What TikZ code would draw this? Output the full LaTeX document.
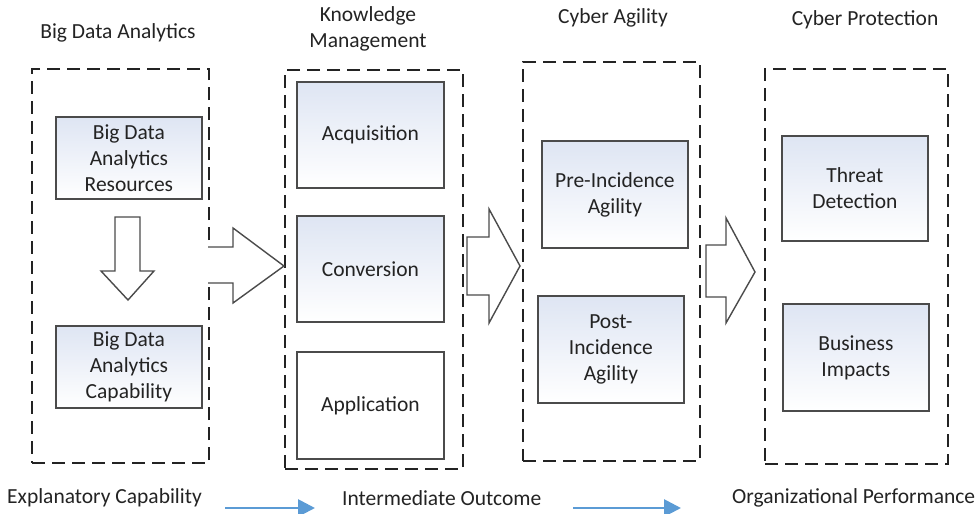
\documentclass[tikz,border=0pt]{standalone}
\usepackage{fontspec}
\setmainfont{Carlito}
\usetikzlibrary{arrows.meta}
\definecolor{txt}{RGB}{35,35,35}
\definecolor{edge}{RGB}{75,75,75}
\definecolor{gradtop}{RGB}{222,229,243}
\definecolor{bluearr}{RGB}{91,155,213}
\tikzset{
  lbl/.style={text=txt, font=\fontsize{21.5}{26}\selectfont, align=center, inner sep=0pt},
  grp/.style={draw=txt, line width=2pt, dash pattern=on 13pt off 7pt, anchor=north west, inner sep=0pt},
  item/.style={draw=edge, line width=1.8pt, top color=gradtop, bottom color=white, anchor=north west,
    inner sep=0pt, text=txt, font=\fontsize{21.5}{26}\selectfont, align=center},
  plain/.style={item, top color=white, bottom color=white},
  blk/.style={draw=edge, line width=1.4pt, fill=white, line join=miter},
  flow/.style={draw=bluearr, line width=2.8pt, -{Triangle[length=17pt,width=17pt]}}
}
\begin{document}
\begin{tikzpicture}[x=1pt,y=-1pt]
\useasboundingbox (0,0) rectangle (980,514);
% titles
\node[lbl] (t1) at (118,33) {Big Data Analytics};
\node[lbl] (t2) at (368,29) {Knowledge\\Management};
\node[lbl] (t3) at (613,18) {Cyber Agility};
\node[lbl] (t4) at (865,20) {Cyber Protection};
% dashed groups
\node[grp, minimum width=177pt, minimum height=394pt] (g1) at (31,68) {};
\node[grp, minimum width=178pt, minimum height=399pt] (g2) at (284,69) {};
\node[grp, minimum width=177pt, minimum height=399pt] (g3) at (522,61) {};
\node[grp, minimum width=183pt, minimum height=395pt] (g4) at (764,68) {};
% inner boxes
\node[item, minimum width=146pt, minimum height=82pt] (r) at (55,116) {};
\node[lbl] at (r.center) {Big Data\\Analytics\\Resources};
\node[item, minimum width=146pt, minimum height=82pt] (c) at (55,325) {};
\node[lbl] at (c.center) {Big Data\\Analytics\\Capability};
\node[item, minimum width=147pt, minimum height=106pt] (acq) at (296,81) {};
\node[lbl] at (acq.center) {Acquisition};
\node[item, minimum width=147pt, minimum height=106pt] (conv) at (296,215) {};
\node[lbl] at (conv.center) {Conversion};
\node[plain, minimum width=147pt, minimum height=107pt] (app) at (296,351) {};
\node[lbl] at (app.center) {Application};
\node[item, minimum width=146pt, minimum height=107pt] (pre) at (541,140) {};
\node[lbl] at (pre.center) {Pre-Incidence\\Agility};
\node[item, minimum width=146pt, minimum height=107pt] (post) at (537,295) {};
\node[lbl] at (post.center) {Post-\\Incidence\\Agility};
\node[item, minimum width=146pt, minimum height=105pt] (thr) at (781,135) {};
\node[lbl] at (thr.center) {Threat\\Detection};
\node[item, minimum width=146pt, minimum height=107pt] (bus) at (782,303) {};
\node[lbl] at (bus.center) {Business\\Impacts};
% block arrows
\draw[blk] (115,217) -- (140,217) -- (140,271) -- (154,271) -- (128,300) -- (101,271) -- (115,271) -- cycle;
\draw[blk] (208,247) -- (233,247) -- (233,228) -- (284,266) -- (233,303) -- (233,283) -- (208,283);
\draw[blk] (467,237) -- (489,237) -- (489,209) -- (520,266) -- (489,323) -- (489,295) -- (467,295) -- cycle;
\draw[blk] (706,245) -- (726,245) -- (726,218) -- (755,272) -- (726,323) -- (726,297) -- (706,297) -- cycle;
% bottom labels
\node[lbl, anchor=west] (b1) at (7,498) {Explanatory Capability};
\node[lbl, anchor=west] (b2) at (342,498) {Intermediate Outcome};
\node[lbl, anchor=west] (b3) at (732,498) {Organizational Performance};
\coordinate (a1s) at (225,508); \coordinate (a1e) at (315,508);
\coordinate (a2s) at (573,508); \coordinate (a2e) at (681,508);
\draw[flow] (a1s) -- (a1e);
\draw[flow] (a2s) -- (a2e);
\end{tikzpicture}
\end{document}
